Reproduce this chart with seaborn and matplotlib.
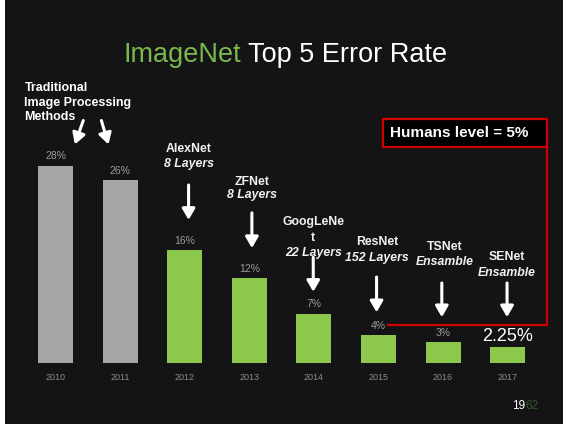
import matplotlib
matplotlib.use('Agg')
import matplotlib.pyplot as plt
import seaborn as sns
import pandas as pd
from matplotlib.patches import Rectangle
from matplotlib.lines import Line2D

# data
years = ['2010', '2011', '2012', '2013', '2014', '2015', '2016', '2017']
error_rate = [28, 26, 16, 12, 7, 4, 3, 2.25]
rate_labels = ['28%', '26%', '16%', '12%', '7%', '4%', '3%', '2.25%']
method = ['traditional', 'traditional', 'cnn', 'cnn', 'cnn', 'cnn', 'cnn', 'cnn']
model_names = ['AlexNet', 'ZFNet', 'GoogLeNe\nt', 'ResNet', 'TSNet', 'SENet']
model_notes = ['8 Layers', '8 Layers', '22 Layers', '152 Layers', 'Ensamble', 'Ensamble']
human_level = 5

W, H = 563, 424
BG = '#141316'
GRAY = '#a6a6a6'
GREEN = '#8cc84b'

df = pd.DataFrame({'year': years, 'error': error_rate, 'method': method})

plt.rcParams['font.family'] = ['Liberation Sans', 'DejaVu Sans']
fig = plt.figure(figsize=(W / 100, H / 100), dpi=100, facecolor=BG)


def px(x, y):
    # slide pixel -> figure fraction
    return x / W, 1 - y / H


# axes placed so that bar centres land where they are on the slide
ax = fig.add_axes([23.2 / W, 61 / H, 516.8 / W, 211.5 / H])
ax.set_facecolor(BG)

sns.barplot(data=df, x='year', y='error', hue='method',
            palette={'traditional': GRAY, 'cnn': GREEN},
            dodge=False, width=0.54, saturation=1, legend=False, ax=ax)
ax.set_xlim(-0.5, 7.5)
ax.set_ylim(0, 30)
ax.set_xlabel('')
ax.set_ylabel('')
ax.set_yticks([])
ax.tick_params(axis='x', length=0, pad=7.5, labelsize=6.5, labelcolor='#8c8c8c')
for s in ax.spines.values():
    s.set_visible(False)
for bar in ax.patches:
    bar.set_linewidth(0)

# value labels above the bars
bars = sorted([b for b in ax.patches if b.get_height() > 0], key=lambda b: b.get_x())
for b, lab in zip(bars, rate_labels):
    cx = b.get_x() + b.get_width() / 2
    if lab == '2.25%':
        ax.annotate(lab, (cx, b.get_height()), xytext=(0, 1.5), textcoords='offset points',
                    ha='center', va='bottom', fontsize=13, color='white', annotation_clip=False)
    else:
        ax.annotate(lab, (cx, b.get_height()), xytext=(0, 3), textcoords='offset points',
                    ha='center', va='bottom', fontsize=7.5, color='#9c9c9c', annotation_clip=False)

arrow = dict(arrowstyle='-|>,head_length=0.55,head_width=0.32', color='white',
             lw=2.2, mutation_scale=12, shrinkA=0, shrinkB=0)

# traditional methods note
for txt, y in zip(['Traditional', 'Image Processing', 'Methods'], [39.0, 36.9, 34.9]):
    ax.text(-0.48, y, txt, ha='left', va='center', fontsize=9, fontweight='bold',
            color='white', clip_on=False)
ax.annotate('', xy=(0.30, 31.0), xytext=(0.43, 34.4), arrowprops=arrow, annotation_clip=False)
ax.annotate('', xy=(0.82, 31.0), xytext=(0.71, 34.4), arrowprops=arrow, annotation_clip=False)

# model call-outs: x, name line ys, note y, arrow x, arrow top, arrow bottom
layout = [
    (2.06, [30.35], 28.2, 2.06, 25.25, 20.3),
    (3.04, [25.7], 23.8, 3.04, 21.3, 16.3),
    (3.99, [20.0, 17.7], 15.6, 3.99, 15.0, 10.1),
    (4.98, [17.2], 14.9, 4.97, 12.2, 7.2),
    (6.03, [16.5], 14.3, 5.98, 11.35, 6.5),
    (6.99, [15.0], 12.8, 6.99, 11.35, 6.5),
]
for name, note, (x, name_ys, note_y, ax_x, a_top, a_bot) in zip(model_names, model_notes, layout):
    for line, y in zip(name.split('\n'), name_ys):
        ax.text(x, y, line, ha='center', va='center', fontsize=8.8, fontweight='bold',
                color='#f2f2f2', clip_on=False)
    ax.text(x, note_y, note, ha='center', va='center', fontsize=8.8, fontweight='bold',
            fontstyle='italic', color='#f2f2f2', clip_on=False)
    ax.annotate('', xy=(ax_x, a_bot), xytext=(ax_x, a_top), arrowprops=arrow, annotation_clip=False)

# title, "ImageNet" in green
t = fig.text(*px(123, 55), 'ImageNet', ha='left', va='center', fontsize=19.5, color='#79b94c')
ax.annotate(' Top 5 Error Rate', xy=(1, 0), xycoords=t, ha='left', va='bottom',
            fontsize=19.5, color='white', annotation_clip=False)

# human level call-out
x0, y0 = px(383, 147)
x1, y1 = px(547, 119)
fig.patches.append(Rectangle((x0, y0), x1 - x0, y1 - y0, transform=fig.transFigure,
                             facecolor='black', edgecolor='#d00000', lw=1.6))
fig.text(*px(390, 133), f'Humans level = {human_level}%', ha='left', va='center',
         fontsize=11, fontweight='bold', color='white')
lx = [px(547, 147)[0], px(547, 325)[0], px(388, 325)[0]]
ly = [px(547, 147)[1], px(547, 325)[1], px(388, 325)[1]]
fig.lines.append(Line2D(lx, ly, transform=fig.transFigure, color='#d00000', lw=1.6))

# slide number
n = fig.text(*px(512, 406), '19', ha='left', va='center', fontsize=8.5, color='white')
ax.annotate('62', xy=(1, 0), xycoords=n, ha='left', va='bottom',
            fontsize=8.5, color='#2f5a24', annotation_clip=False)

# thin white strip on the left edge of the screenshot
fig.patches.append(Rectangle((0, 0), 5 / W, 1, transform=fig.transFigure,
                             facecolor='white', edgecolor='none'))

fig.savefig('out.png', dpi=100, facecolor=BG)
